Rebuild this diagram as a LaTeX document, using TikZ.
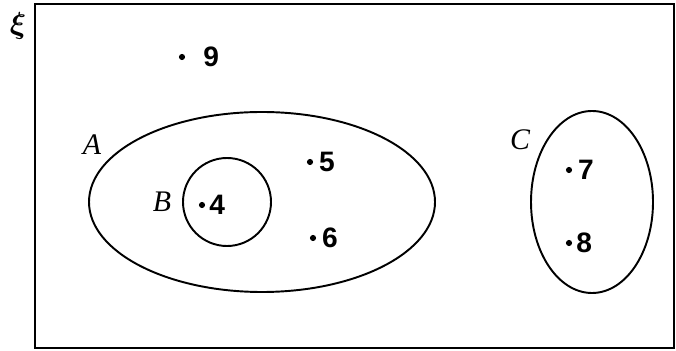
\documentclass[tikz,border=0pt]{standalone}
\usepackage{fontspec}
\setmainfont{Liberation Serif}
\setsansfont{Liberation Sans}
\tikzset{
    setline/.style={line width=1.1pt},
    setname/.style={font=\fontsize{17}{19}\selectfont\itshape},
    elem/.style={circle, fill=black, inner sep=0pt, minimum size=3.5pt},
    num/.style={font=\fontsize{16}{18}\selectfont\sffamily\bfseries, inner sep=1pt}
}
\begin{document}
\begin{tikzpicture}
    \useasboundingbox (0,0) rectangle (13.52,7.02);
    % Universal set
    \draw[line width=1.4pt] (0.70,0.06) rectangle (13.48,6.94);
    \node[font=\fontsize{18}{20}\selectfont\boldmath] (xi) at (0.36,6.50) {$\xi$};

    % Sets
    \draw[setline] (5.24,2.98) ellipse [x radius=3.46, y radius=1.80];
    \draw[setline] (4.54,2.98) circle [radius=0.88];
    \draw[setline] (11.84,2.98) ellipse [x radius=1.22, y radius=1.82];
    \node[setname] (nameA) at (1.84,4.12) {A};
    \node[setname] (nameB) at (3.24,2.98) {B};
    \node[setname] (nameC) at (10.40,4.22) {C};

    % Elements
    \foreach \n/\x/\y/\d in {4/4.04/2.92/1pt, 5/6.20/3.78/2pt, 6/6.26/2.26/2pt, 7/11.38/3.62/2pt, 8/11.38/2.16/1pt, 9/3.64/5.88/9pt}
        \node[elem, label={[num, label distance=\d]right:\n}] (p\n) at (\x,\y) {};
\end{tikzpicture}
\end{document}
